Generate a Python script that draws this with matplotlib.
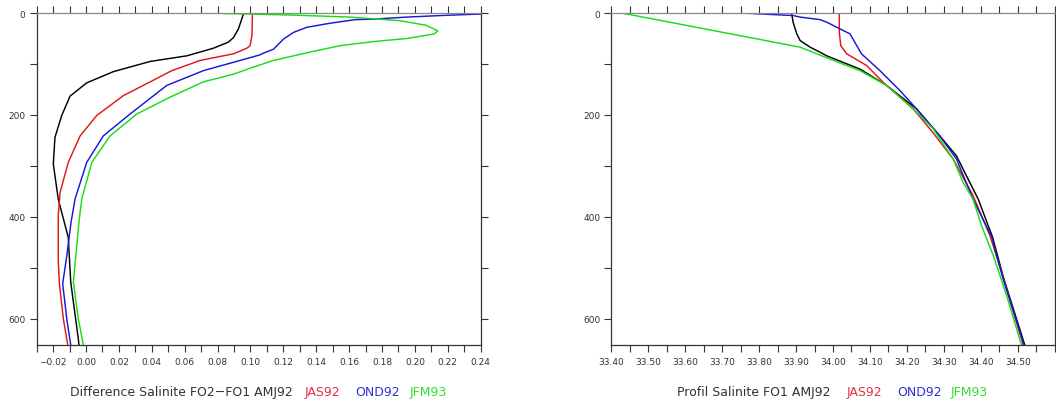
import numpy as np
import matplotlib
matplotlib.use('agg')
import matplotlib.pyplot as plt

# --- left panel: salinity difference FO2-FO1 (x) vs depth (y)
diff_amj92_x = [0.0957, 0.0927, 0.0897, 0.0866, 0.0775, 0.0613, 0.0390, 0.0166, 0.0004, -0.0097,
                -0.0148, -0.0189, -0.0199, -0.0169, -0.0108, -0.0093, -0.0047, -0.0043]
diff_amj92_y = [2, 31, 48, 57, 69, 84, 95, 115, 137, 163, 201, 244, 296, 365, 440, 528, 639, 651]

diff_jas92_x = [0.1012, 0.1009, 0.0998, 0.0978, 0.0897, 0.0694, 0.0522, 0.0390, 0.0227, 0.0065,
                -0.0036, -0.0108, -0.0158, -0.0169, -0.0169, -0.0162, -0.0138, -0.0111]
diff_jas92_y = [0, 44, 64, 69, 80, 93, 113, 135, 162, 201, 241, 293, 352, 397, 486, 531, 600, 651]

diff_ond92_x = [0.26, 0.2400, 0.2155, 0.1952, 0.1749, 0.1637, 0.1485, 0.1343, 0.1262, 0.1201,
                0.1140, 0.1069, 0.1059, 0.0937, 0.0714, 0.0491, 0.0268, 0.0105, 0.0004,
                -0.0067, -0.0091, -0.0117, -0.0142, -0.0117, -0.0093]
diff_ond92_y = [0, 2, 5, 8, 12, 13, 20, 28, 38, 51, 71, 80, 82, 93, 113, 142, 198, 241, 293,
                365, 410, 476, 531, 600, 651]

diff_jfm93_x = [0.0836, 0.1250, 0.1603, 0.1905, 0.2068, 0.2139, 0.2118, 0.1952, 0.1749, 0.1546,
                0.1343, 0.1140, 0.1000, 0.0897, 0.0714, 0.0511, 0.0309, 0.0146, 0.0035,
                -0.0026, -0.0043, -0.0077, -0.0047, -0.0016]
diff_jfm93_y = [1, 4, 8, 15, 24, 35, 41, 50, 56, 64, 78, 93, 108, 120, 135, 165, 198, 241, 293,
                365, 410, 528, 600, 651]

# --- right panel: FO1 salinity profile
prof_amj92_x = [33.888, 33.892, 33.902, 33.911, 33.938, 33.965, 33.983, 34.073, 34.145, 34.226,
                34.289, 34.334, 34.361, 34.393, 34.432, 34.461, 34.519]
prof_amj92_y = [0, 18, 41, 54, 67, 77, 84, 110, 142, 188, 241, 280, 319, 365, 440, 518, 651]

prof_jas92_x = [34.017, 34.017, 34.021, 34.037, 34.091, 34.136, 34.217, 34.271, 34.325, 34.379,
                34.425, 34.456, 34.515]
prof_jas92_y = [0, 38, 64, 80, 103, 136, 188, 235, 286, 358, 437, 508, 651]

prof_ond92_x = [33.753, 33.892, 33.911, 33.965, 33.983, 34.046, 34.077, 34.127, 34.181, 34.226,
                34.289, 34.334, 34.379, 34.430, 34.459, 34.517]
prof_ond92_y = [0, 5, 8, 13, 18, 41, 80, 113, 152, 188, 241, 286, 365, 440, 518, 651]

prof_jfm93_x = [33.428, 33.911, 34.001, 34.073, 34.145, 34.217, 34.271, 34.325, 34.352, 34.379,
                34.402, 34.434, 34.470, 34.510]
prof_jfm93_y = [0, 67, 93, 113, 142, 188, 227, 286, 332, 365, 417, 476, 554, 651]

colors = ['black', '#e01818', '#1818d8', '#18dd18']
title_colors = ['#333333', '#e03048', '#3030d0', '#30e030']

W, H = 1056, 406
fig = plt.figure(figsize=(W / 100, H / 100), dpi=100)


def px_axes(x0, x1, y0, y1):
    return fig.add_axes([x0 / W, 1 - y1 / H, (x1 - x0) / W, (y1 - y0) / H])


def style(ax, xticks, xlabels):
    ax.set_ylim(651, 0)
    ax.set_xticks(xticks, xlabels)
    ax.set_yticks([0, 100, 200, 300, 400, 500, 600], ['0', '', '200', '', '400', '', '600'])
    ax.tick_params(direction='out', length=5, width=0.8, colors='#333333', labelsize=6.5,
                   top=True, right=True, labeltop=False, labelright=False, pad=3)
    ax.tick_params(axis='x', pad=4)
    for s in ax.spines.values():
        s.set_color('#333333')
        s.set_linewidth(0.9)
    ax.spines['top'].set_color('#888888')


ax1 = px_axes(36.7, 480.7, 14, 346)
for xs, ys, c in zip([diff_amj92_x, diff_jas92_x, diff_ond92_x, diff_jfm93_x],
                     [diff_amj92_y, diff_jas92_y, diff_ond92_y, diff_jfm93_y], colors):
    ax1.plot(xs, ys, color=c, lw=1.05)
ax1.set_xlim(-0.03, 0.24)
t1 = np.round(np.arange(-0.03, 0.2401, 0.01), 2)
l1 = ['' if i % 2 == 0 else ('%.2f' % v).replace('-', '\u2212') for i, v in enumerate(t1)]
style(ax1, t1, l1)

ax2 = px_axes(611.3, 1054.7, 14, 346)
for xs, ys, c in zip([prof_amj92_x, prof_jas92_x, prof_ond92_x, prof_jfm93_x],
                     [prof_amj92_y, prof_jas92_y, prof_ond92_y, prof_jfm93_y], colors):
    ax2.plot(xs, ys, color=c, lw=1.05)
ax2.set_xlim(33.40, 34.60)
t2 = np.round(np.arange(33.40, 34.6001, 0.05), 2)
l2 = ['%.2f' % v if i % 2 == 0 and i < 24 else '' for i, v in enumerate(t2)]
style(ax2, t2, l2)

# titles under each panel
left_parts = [('Difference Salinite FO2\u2212FO1 AMJ92', 70), ('JAS92', 305), ('OND92', 355.7), ('JFM93', 409.3)]
right_parts = [('Profil Salinite FO1 AMJ92', 677.3), ('JAS92', 846.7), ('OND92', 897.3), ('JFM93', 950.7)]
for parts in (left_parts, right_parts):
    for (s, x), c in zip(parts, title_colors):
        fig.text(x / W, 1 - 392.5 / H, s, color=c, fontsize=9, ha='left', va='center')

fig.savefig('out.png', dpi=100)
